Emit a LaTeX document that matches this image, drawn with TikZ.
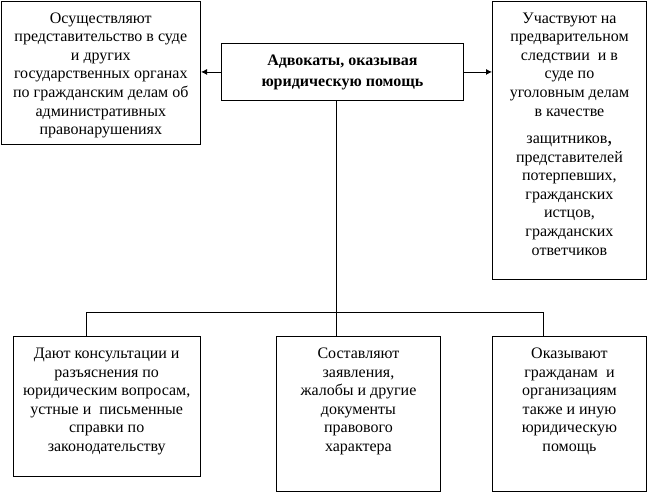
\documentclass[tikz,border=0pt]{standalone}
\usepackage{fontspec}
\setmainfont{Liberation Serif}
\usetikzlibrary{arrows.meta}
\newcommand\boxtxt[3]{\parbox[t][#2][t]{#1}{\centering\strut #3}}
\tikzset{
  bx/.style={draw, line width=0.9pt, inner sep=0pt, anchor=north west,
    font=\fontsize{16}{18.6}\selectfont},
  conn/.style={line width=0.9pt},
  arr/.style={conn, -{Latex[length=6pt,width=6pt]}}
}
\begin{document}
\begin{tikzpicture}[x=1pt,y=-1pt]
\useasboundingbox (0,0) rectangle (649,493);
\node[bx, minimum width=199.5pt, minimum height=143.5pt] (l) at (0.6,0.6)
  {\boxtxt{197pt}{125.5pt}{Осуществляют\\представительство в суде\\и других\\государственных органах\\по гражданским делам об\\административных\\правонарушениях}};
\node[bx, font=\bfseries\fontsize{16}{21}\selectfont, minimum width=242pt, minimum height=57pt] (c) at (221,43)
  {\boxtxt{238pt}{43pt}{Адвокаты, оказывая\\юридическую помощь}};
\node[bx, minimum width=154pt, minimum height=278.5pt] (r) at (492,0.6)
  {\boxtxt{150pt}{260.5pt}{Участвуют на\\предварительном\\следствии\ \ и в\\суде по\\уголовным делам\\в качестве\\[8.8pt]защитников{\fontsize{20}{18.6}\selectfont,}\\представителей\\потерпевших,\\гражданских\\истцов,\\гражданских\\ответчиков}};
\node[bx, minimum width=187.5pt, minimum height=140pt] (bl) at (12.5,336)
  {\boxtxt{185pt}{122pt}{Дают консультации и\\разъяснения по\\юридическим вопросам,\\устные и\ \ письменные\\справки по\\законодательству}};
\node[bx, minimum width=164pt, minimum height=155pt] (bm) at (276,336)
  {\boxtxt{160pt}{137pt}{Составляют\\заявления,\\жалобы и другие\\документы\\правового\\характера}};
\node[bx, minimum width=154pt, minimum height=155pt] (br) at (492,336)
  {\boxtxt{150pt}{137pt}{Оказывают\\гражданам\ \ и\\организациям\\также и иную\\юридическую\\помощь}};
\draw[arr] (c.west) -- (c.west -| l.east);
\draw[arr] (c.east) -- (c.east -| r.west);
\coordinate (j) at (336.5,312);
\coordinate (hl) at (86,312);
\coordinate (hr) at (543,312);
\draw[conn] (c.south -| j) -- (j);
\draw[conn] (hl) -- (hr);
\draw[conn] (hl) -- (hl |- bl.north);
\draw[conn] (j) -- (j |- bm.north);
\draw[conn] (hr) -- (hr |- br.north);
\end{tikzpicture}
\end{document}
